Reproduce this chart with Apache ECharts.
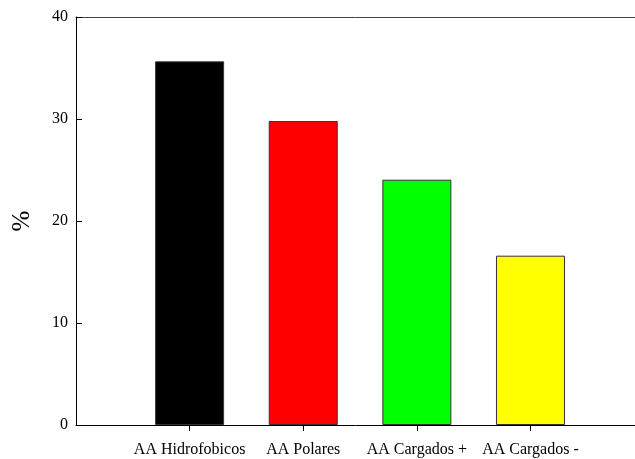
<!DOCTYPE html>
<html>
<head>
<meta charset="utf-8">
<script src="https://cdn.jsdelivr.net/npm/echarts@6/dist/echarts.min.js"></script>
<style>html,body{margin:0;padding:0;background:#fff;}#c{width:635px;height:459px;}</style>
</head>
<body>
<div id="c"></div>
<script>
const categories = ['AA Hidrofobicos', 'AA Polares', 'AA Cargados +', 'AA Cargados -'];
const values = [35.65, 29.8, 24.05, 16.6];
const colors = ['#000000', '#ff0000', '#00ff00', '#ffff00'];
const yTicks = [0, 10, 20, 30, 40];

const positions = categories.map((c, i) => i + 1);
const font = 'Liberation Serif';
const chart = echarts.init(document.getElementById('c'), null, {renderer: 'canvas'});
chart.setOption({
  animation: false,
  backgroundColor: '#fff',
  grid: {left: 76, right: 0, top: 17, bottom: 34, containLabel: false},
  xAxis: [{
    type: 'value', min: 0, max: 4.92, interval: 1, position: 'bottom',
    splitLine: {show: false},
    axisLine: {show: true, lineStyle: {color: '#000', width: 1}},
    axisTick: {show: true, customValues: positions, length: 6, inside: false, lineStyle: {color: '#000'}},
    axisLabel: {show: true, customValues: positions, margin: 17, color: '#000', fontFamily: font, fontSize: 16,
      formatter: v => categories[Math.round(v) - 1] || ''}
  }, {
    type: 'value', min: 0, max: 4.92, position: 'top',
    splitLine: {show: false}, axisTick: {show: false}, axisLabel: {show: false},
    axisLine: {show: true, lineStyle: {color: '#444', width: 1}}
  }],
  yAxis: {
    type: 'value', min: yTicks[0], max: yTicks[yTicks.length - 1], interval: 10,
    name: '%', nameLocation: 'middle', nameGap: 41, nameRotate: 90,
    nameTextStyle: {fontFamily: font, fontSize: 25, color: '#000'},
    splitLine: {show: false},
    axisLine: {show: true, lineStyle: {color: '#000', width: 1}},
    axisTick: {show: true, inside: true, length: 6, lineStyle: {color: '#000'}},
    axisLabel: {margin: 8, color: '#000', fontFamily: font, fontSize: 16}
  },
  series: [{
    type: 'bar', barWidth: 69,
    data: values.map((v, i) => ({value: [positions[i], v], itemStyle: {color: colors[i]}})),
    itemStyle: {borderColor: '#333', borderWidth: 1}
  }]
});
</script>
</body>
</html>
